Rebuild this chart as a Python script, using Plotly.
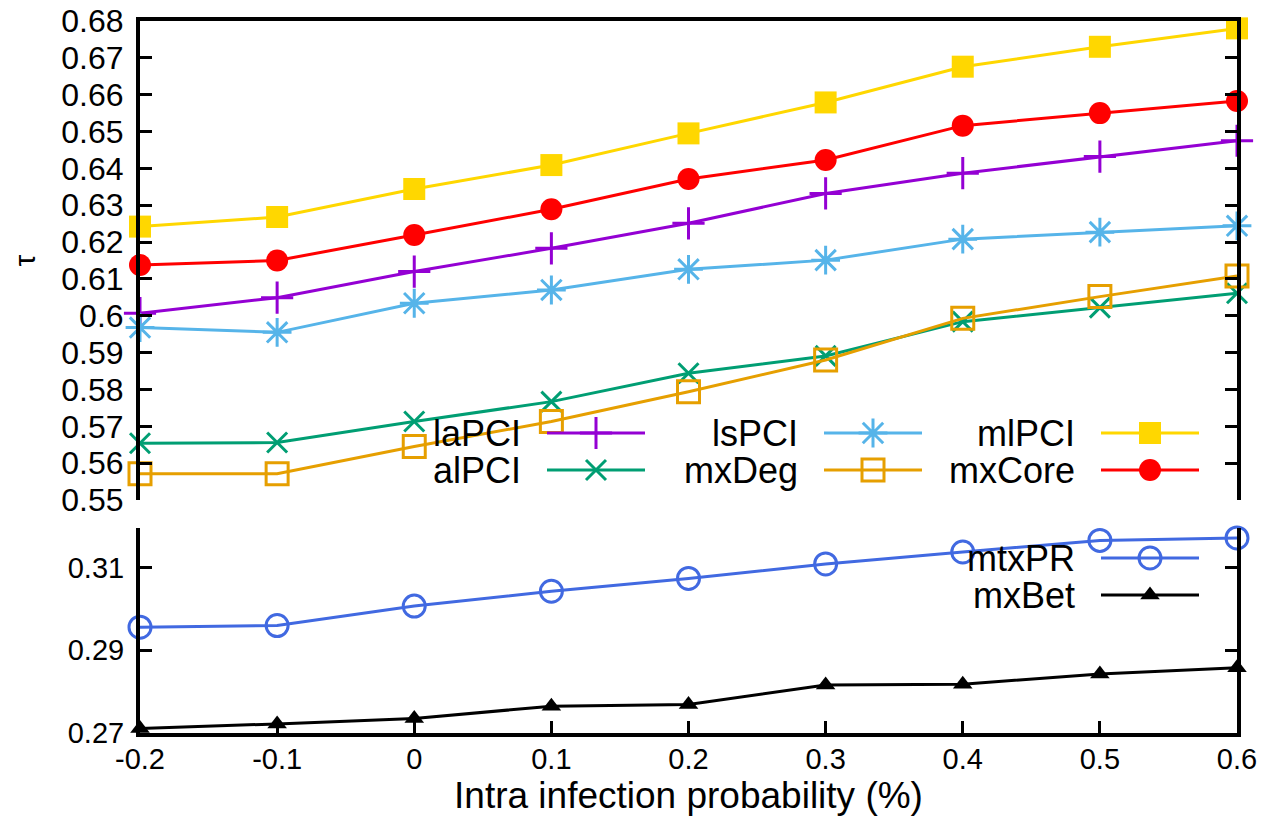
import plotly.graph_objects as go

# ---------------- data ----------------
x_vals = [-0.2, -0.1, 0.0, 0.1, 0.2, 0.3, 0.4, 0.5, 0.6]
x_tick_text = ["-0.2", "-0.1", "0", "0.1", "0.2", "0.3", "0.4", "0.5", "0.6"]

laPCI = [0.6007, 0.6049, 0.6120, 0.6183, 0.6251, 0.6332, 0.6387, 0.6432, 0.6475]
alPCI = [0.5654, 0.5656, 0.5713, 0.5767, 0.5844, 0.5891, 0.5984, 0.6022, 0.6061]
lsPCI = [0.5968, 0.5955, 0.6034, 0.6070, 0.6126, 0.6151, 0.6208, 0.6227, 0.6244]
mxDeg = [0.5571, 0.5571, 0.5645, 0.5713, 0.5794, 0.5880, 0.5993, 0.6052, 0.6108]
mlPCI = [0.6242, 0.6268, 0.6344, 0.6409, 0.6495, 0.6579, 0.6676, 0.6730, 0.6780]
mxCore = [0.6138, 0.6150, 0.6219, 0.6289, 0.6371, 0.6423, 0.6516, 0.6550, 0.6583]
mtxPR = [0.2956, 0.2960, 0.3007, 0.3043, 0.3074, 0.3109, 0.3138, 0.3166, 0.3172]
mxBet = [0.2711, 0.2722, 0.2735, 0.2765, 0.2769, 0.2816, 0.2818, 0.2843, 0.2858]

top_ticks = [0.55, 0.56, 0.57, 0.58, 0.59, 0.60, 0.61, 0.62, 0.63, 0.64, 0.65, 0.66, 0.67, 0.68]
top_tick_text = ["0.55", "0.56", "0.57", "0.58", "0.59", "0.6", "0.61", "0.62",
                 "0.63", "0.64", "0.65", "0.66", "0.67", "0.68"]
bottom_ticks = [0.27, 0.29, 0.31]
bottom_tick_text = ["0.27", "0.29", "0.31"]

x_title = "Intra infection probability (%)"
y_title = "τ"

# ---------------- styles ----------------
FONT = "Liberation Sans, Arial, sans-serif"
LW = 3
top_series = [
    # name, values, color, symbol, size
    ("laPCI", laPCI, "#9400D3", "cross-thin-open", 23),
    ("alPCI", alPCI, "#009E73", "x-thin-open", 20),
    ("lsPCI", lsPCI, "#56B4E9", "asterisk-open", 24),
    ("mxDeg", mxDeg, "#E69F00", "square-open", 22),
    ("mlPCI", mlPCI, "#FFD700", "square", 22),
    ("mxCore", mxCore, "#FF0000", "circle", 22),
]
bottom_series = [
    ("mtxPR", mtxPR, "#4169E1", "circle-open", 22),
    ("mxBet", mxBet, "#000000", "triangle-up", 17),
]

fig = go.Figure()

def marker_for(color, symbol, size):
    lw = LW if "open" in symbol else 0
    return dict(color=color, symbol=symbol, size=size, line=dict(color=color, width=lw))

for name, vals, color, sym, size in top_series:
    fig.add_trace(go.Scatter(x=x_vals, y=vals, mode="lines+markers", name=name,
                             xaxis="x2", yaxis="y2", cliponaxis=False,
                             line=dict(color=color, width=LW),
                             marker=marker_for(color, sym, size), showlegend=False))
for name, vals, color, sym, size in bottom_series:
    fig.add_trace(go.Scatter(x=x_vals, y=vals, mode="lines+markers", name=name,
                             xaxis="x", yaxis="y", cliponaxis=False,
                             line=dict(color=color, width=LW),
                             marker=marker_for(color, sym, size), showlegend=False))

# ---------------- custom gnuplot-style legend (pixel-space overlay axes) ----------------
W_WIN, H_WIN = 1271, 818
PX_L, PX_R, PX_T, PX_B = 140, 1237, 21, 733   # plot area in window pixels
top_legend_layout = {
    "laPCI": (0, 0), "lsPCI": (1, 0), "mlPCI": (2, 0),
    "alPCI": (0, 1), "mxDeg": (1, 1), "mxCore": (2, 1),
}
col_text_right = [523, 800, 1077]
row_y = [433, 470]
bottom_row_y = [558, 595]
sample_gap, sample_len = 24, 98

legend_entries = []
for name, vals, color, sym, size in top_series:
    c, r = top_legend_layout[name]
    legend_entries.append((name, color, sym, size, col_text_right[c], row_y[r]))
for i, (name, vals, color, sym, size) in enumerate(bottom_series):
    legend_entries.append((name, color, sym, size, col_text_right[2], bottom_row_y[i]))

for name, color, sym, size, tr, yy in legend_entries:
    x0 = tr + sample_gap
    fig.add_trace(go.Scatter(x=[x0, x0 + sample_len], y=[yy, yy], mode="lines",
                             xaxis="x3", yaxis="y3",
                             line=dict(color=color, width=LW), showlegend=False,
                             hoverinfo="skip", cliponaxis=False))
    fig.add_trace(go.Scatter(x=[x0 + sample_len / 2], y=[yy], mode="markers",
                             xaxis="x3", yaxis="y3",
                             marker=marker_for(color, sym, size), showlegend=False,
                             hoverinfo="skip", cliponaxis=False))
    fig.add_annotation(x=tr, y=yy, xref="x3", yref="y3", text=name, showarrow=False,
                       xanchor="right", yanchor="middle",
                       font=dict(family=FONT, size=36, color="black"))

# ---------------- layout ----------------
H = PX_B - PX_T
top_dom = [(PX_B - 500) / H, 1.0]
bot_dom = [0.0, (PX_B - 528) / H]

axis_common = dict(showgrid=False, zeroline=False, showline=True, linecolor="black",
                   linewidth=4, tickcolor="black", tickwidth=3, ticklen=12, automargin=False,
                   ticklabeloverflow="allow")

FIG_W, FIG_H = W_WIN, H_WIN
fig.update_layout(
    width=FIG_W, height=FIG_H,
    margin=dict(l=PX_L, r=FIG_W - PX_R, t=PX_T, b=FIG_H - PX_B, autoexpand=False),
    paper_bgcolor="white", plot_bgcolor="rgba(0,0,0,0)",
    font=dict(family=FONT, color="black"),
    xaxis=dict(**axis_common, domain=[0, 1], range=[-0.2, 0.6], anchor="y",
               ticks="inside", tickvals=x_vals, ticktext=x_tick_text,
               tickfont=dict(size=29), ticklabelstandoff=-3,
               title=dict(text=x_title, font=dict(size=37), standoff=0)),
    xaxis2=dict(showgrid=False, zeroline=False, showline=True, linecolor="black", linewidth=4,
                domain=[0, 1], range=[-0.2, 0.6], anchor="y2", side="top", automargin=False,
                ticks="", showticklabels=False, matches="x"),
    yaxis=dict(**axis_common, domain=bot_dom, range=[0.27, 0.3196], anchor="x",
               mirror="ticks", ticks="inside", tickvals=bottom_ticks, ticktext=bottom_tick_text,
               tickfont=dict(size=29), ticklabelstandoff=6),
    yaxis2=dict(**axis_common, domain=top_dom, range=[0.55, 0.68], anchor="x2",
                mirror="ticks", ticks="inside", tickvals=top_ticks, ticktext=top_tick_text,
                tickfont=dict(size=32), ticklabelstandoff=6),
    xaxis3=dict(domain=[0, 1], range=[PX_L, PX_R], anchor="y3", visible=False, fixedrange=True),
    yaxis3=dict(domain=[0, 1], range=[PX_B, PX_T], anchor="x3", visible=False, fixedrange=True),
)

fig.add_annotation(x=(24 - PX_L) / (PX_R - PX_L), y=0.5, xref="paper", yref="y2 domain",
                   text=y_title, showarrow=False, textangle=-90,
                   xanchor="center", yanchor="middle",
                   font=dict(family=FONT, size=30, color="black"))

# remove the default 8px page margin so the figure fills the window exactly
fig.write_html("out.html",
               config={"displayModeBar": False},
               post_script="document.body.style.margin='0';document.body.style.overflow='hidden';")
